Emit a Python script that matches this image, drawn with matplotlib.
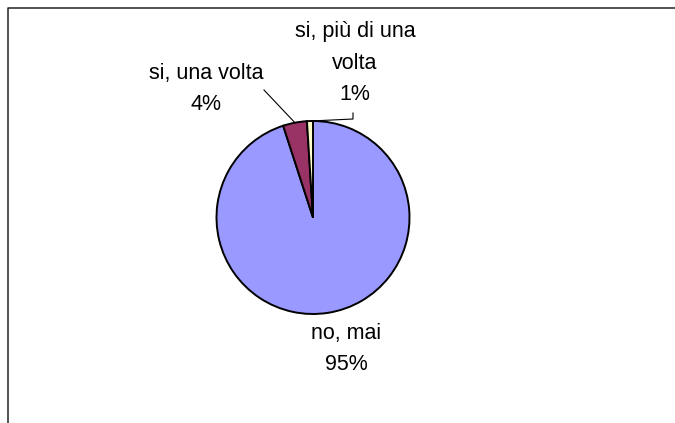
import numpy as np
import matplotlib
matplotlib.use("Agg")
import matplotlib.pyplot as plt

W, H = 675, 423

labels = ["no, mai", "si, una volta", "si, più di una\nvolta"]
values = [95, 4, 1]
colors = ["#9999FF", "#993366", "#FFFFCC"]

# label anchor positions (pixels from the top-left corner)
label_pos = [(346, 349), (206, 89), (355, 63)]

plt.rcParams["font.family"] = ["Liberation Sans", "DejaVu Sans"]

fig = plt.figure(figsize=(W / 100, H / 100), dpi=100)
ax = fig.add_axes([0, 0, 1, 1])

cx, cy, r = 313, H - 217.5, 96.5
wedges, _ = ax.pie(values, colors=colors, startangle=90, counterclock=False,
                   center=(cx, cy), radius=r,
                   wedgeprops=dict(edgecolor="black", linewidth=1.4))
ax.set_xlim(0, W)
ax.set_ylim(0, H)
ax.set_aspect("equal")
ax.axis("off")

total = float(sum(values))
for i, (lab, val) in enumerate(zip(labels, values)):
    px, py = label_pos[i]
    ax.text(px, H - py, f"{lab}\n{val / total:.0%}", ha="center", va="center",
            fontsize=15.5, linespacing=1.665, color="black")

# leader lines from the small slices to their labels
def edge_point(w):
    mid = np.deg2rad((w.theta1 + w.theta2) / 2)
    return cx + r * np.cos(mid), cy + r * np.sin(mid)

ex, ey = edge_point(wedges[1])
ax.plot([264, ex], [H - 90, ey], color="black", lw=0.8)
ex, ey = edge_point(wedges[2])
ax.plot([353, 353, ex], [H - 113, H - 119, ey], color="black", lw=0.8)

# chart area border
ax.plot([7.5, 7.5, W + 5], [-5, H - 7.5, H - 7.5], color="#222222", lw=1.1,
        clip_on=False)

fig.savefig("out.png", dpi=100)
